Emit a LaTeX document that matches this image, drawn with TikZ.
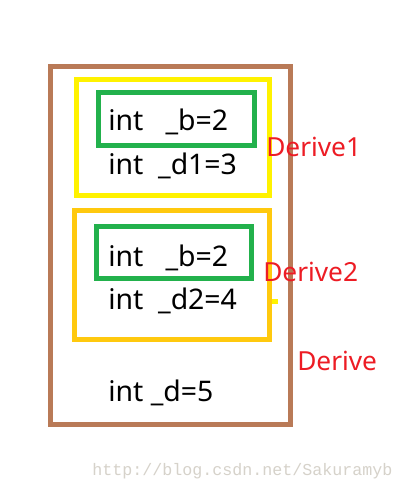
\documentclass[tikz,border=0pt]{standalone}
\usepackage{fontspec}
\setmainfont{Noto Sans}
\newfontfamily\wmfont{Liberation Mono}
\definecolor{brownc}{HTML}{B97A57}
\definecolor{yellowc}{HTML}{FFF200}
\definecolor{goldc}{HTML}{FFC90E}
\definecolor{greenc}{HTML}{22B14C}
\definecolor{redc}{HTML}{ED1C24}
\definecolor{wmc}{HTML}{D6D2CA}
\begin{document}
\begin{tikzpicture}[x=0.75pt,y=-0.75pt,
  boxline/.style={line width=3.75pt},
  code/.style={anchor=base west,inner sep=0pt,font=\fontsize{21.3}{24}\selectfont},
  lbl/.style={anchor=base west,inner sep=0pt,text=redc,font=\fontsize{19.7}{22}\selectfont},
  wm/.style={anchor=base west,inner sep=0pt,text=wmc,font=\wmfont\fontsize{12.5}{14}\selectfont}]
\useasboundingbox[fill=white] (0,0) rectangle (403,489);
% boxes
\draw[boxline,brownc] (50.5,66.5) rectangle (290.5,424);
\draw[boxline,yellowc] (76.5,79.5) rectangle (269,195.5);
\draw[boxline,greenc] (98.5,92.5) rectangle (254,145.5);
\draw[boxline,goldc] (74.5,210.5) rectangle (269,339);
\draw[boxline,greenc] (96.5,226.5) rectangle (251.5,278.5);
\fill[yellowc] (272,299) rectangle (278,304);
% texts
\node[code] (b1) at (108,130) {int\ \ \ \_b=2};
\node[code] (d1) at (108,174) {int\ \ \_d1=3};
\node[code] (b2) at (108,266) {int\ \ \ \_b=2};
\node[code] (d2) at (108,309) {int\ \ \_d2=4};
\node[code] (d) at (108,401) {int \_d=5};
\node[lbl] (l1) at (266,156.5) {Derive1};
\node[lbl] (l2) at (263,281.5) {Derive2};
\node[lbl] (l3) at (297,370) {Derive};
\node[wm] (w) at (92,475) {http://blog.csdn.net/Sakuramyb};
\end{tikzpicture}
\end{document}
